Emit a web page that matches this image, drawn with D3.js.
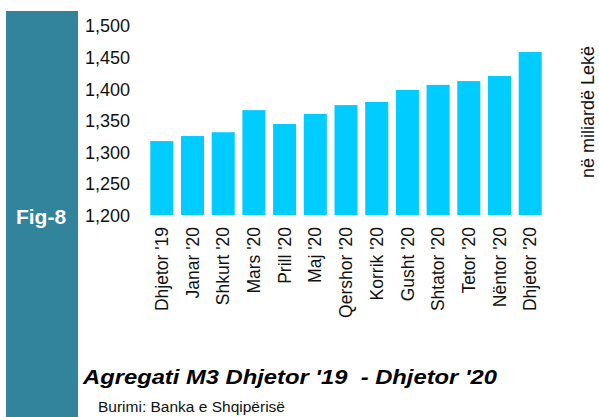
<!DOCTYPE html>
<html>
<head>
<meta charset="utf-8">
<script src="https://cdn.jsdelivr.net/npm/d3@7"></script>
<style>
  body { margin: 0; background: #fff; }
  text { font-family: "Liberation Sans", Arial, sans-serif; }
</style>
</head>
<body>
<script>
var months = ["Dhjetor '19", "Janar '20", "Shkurt '20", "Mars '20", "Prill '20", "Maj '20",
  "Qershor '20", "Korrik '20", "Gusht '20", "Shtator '20", "Tetor '20", "Nëntor '20", "Dhjetor '20"];
var m3 = [1317, 1325, 1331, 1366, 1344, 1360, 1374, 1379, 1398, 1406, 1412, 1420, 1458];
var yTicks = [1200, 1250, 1300, 1350, 1400, 1450, 1500];

var width = 599, height = 417;

var svg = d3.select("body").append("svg")
  .attr("width", width)
  .attr("height", height);

// teal side panel
svg.append("rect")
  .attr("x", 6).attr("y", 11)
  .attr("width", 72).attr("height", 406)
  .attr("fill", "#31849B");

svg.append("text")
  .attr("x", 41).attr("y", 224)
  .attr("text-anchor", "middle")
  .attr("fill", "#fff")
  .style("font-size", "21px")
  .style("font-weight", "bold")
  .text("Fig-8");

var x = d3.scaleBand()
  .domain(months)
  .range([142, 550])
  .paddingInner(0.25)
  .paddingOuter(0.27);

var y = d3.scaleLinear()
  .domain([1200, 1500])
  .range([215, 25.5]);

svg.selectAll(".bar")
  .data(m3)
  .enter().append("rect")
  .attr("class", "bar")
  .attr("x", function(d, i) { return x(months[i]); })
  .attr("width", x.bandwidth())
  .attr("y", function(d) { return y(d); })
  .attr("height", function(d) { return y(1200) - y(d); })
  .attr("fill", "#00CCFF");

// y axis, no line or ticks
var yAxis = d3.axisLeft(y)
  .tickValues(yTicks)
  .tickFormat(d3.format(","))
  .tickSize(0)
  .tickPadding(0);

var gy = svg.append("g")
  .attr("transform", "translate(130,0)")
  .call(yAxis);
gy.select(".domain").remove();
gy.selectAll("text")
  .attr("fill", "#111")
  .style("font-family", "'Liberation Sans', Arial, sans-serif")
  .style("font-size", "18px")
  .attr("dy", "0.36em");

// x axis with rotated labels
var xAxis = d3.axisBottom(x).tickSize(0).tickPadding(0);
var gx = svg.append("g")
  .attr("transform", "translate(0,227)")
  .call(xAxis);
gx.select(".domain").remove();
gx.selectAll("text")
  .attr("fill", "#111")
  .style("font-family", "'Liberation Sans', Arial, sans-serif")
  .style("font-size", "17.5px")
  .attr("text-anchor", "end")
  .attr("transform", "rotate(-90)")
  .attr("x", 0)
  .attr("y", 0)
  .attr("dx", 0)
  .attr("dy", "0.35em");

// unit label on the right
svg.append("text")
  .attr("transform", "translate(594,112) rotate(-90)")
  .attr("text-anchor", "middle")
  .attr("fill", "#111")
  .style("font-size", "18px")
  .text("në miliardë Lekë");

// title and source
svg.append("text")
  .attr("x", 83).attr("y", 384)
  .attr("fill", "#000")
  .attr("textLength", 414)
  .attr("lengthAdjust", "spacingAndGlyphs")
  .attr("xml:space", "preserve")
  .style("font-size", "21px")
  .style("font-weight", "bold")
  .style("font-style", "italic")
  .text("Agregati M3 Dhjetor '19  - Dhjetor '20");

svg.append("text")
  .attr("x", 98).attr("y", 412)
  .attr("fill", "#111")
  .style("font-size", "15.5px")
  .text("Burimi: Banka e Shqipërisë");
</script>
</body>
</html>
